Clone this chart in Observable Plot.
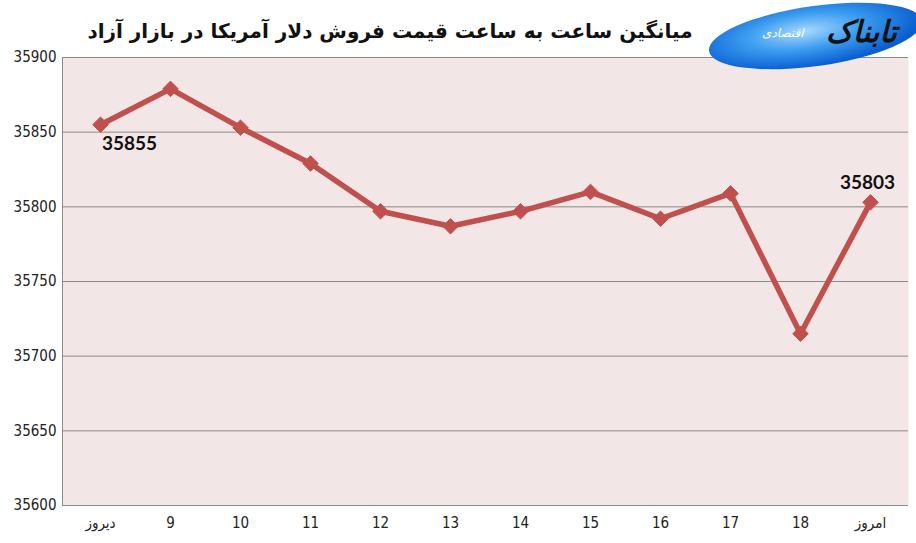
<!DOCTYPE html>
<html><head><meta charset="utf-8">
<script src="https://cdn.jsdelivr.net/npm/d3@7"></script>
<script src="https://cdn.jsdelivr.net/npm/@observablehq/plot@0.6"></script>
<style>
html,body{margin:0;padding:0;background:#fff;}
#wrap{position:relative;width:916px;height:543px;overflow:hidden;}
#title{position:absolute;left:0;width:780px;top:19px;text-align:center;font-family:"DejaVu Sans",sans-serif;font-weight:bold;font-size:20px;color:#111;direction:rtl;}
#logo{position:absolute;left:708px;top:6px;width:215px;height:60px;border-radius:50%;
 background:radial-gradient(ellipse at 45% 40%, #a8d8ff 0%, #3b9cf0 35%, #0a5fd0 70%, #0a4aa8 100%);
 transform:rotate(-8deg);z-index:2;}
#logo1{position:absolute;left:826px;top:14px;font-family:"DejaVu Sans",sans-serif;font-weight:bold;font-size:30px;color:#111;direction:rtl;z-index:3;font-style:italic;}
#logo2{position:absolute;left:762px;top:26px;font-family:"DejaVu Sans",sans-serif;font-size:12px;color:#fff;direction:rtl;z-index:3;font-style:italic;}
#chart{position:absolute;left:0;top:0;}
</style></head>
<body><div id="wrap"><div id="chart"></div><div id="title"></div><div id="logo"></div><div id="logo1">تابناک</div><div id="logo2">اقتصادی</div></div>
<script>
const titleText = "میانگین ساعت به ساعت قیمت فروش دلار آمریکا در بازار آزاد";
const categories = ["دیروز","9","10","11","12","13","14","15","16","17","18","امروز"];
const values = [35855,35879,35853,35829,35797,35787,35797,35810,35792,35809,35715,35803];
const yTicks = [35600,35650,35700,35750,35800,35850,35900];

document.getElementById("title").textContent = titleText;
const data = categories.map((c,i)=>({c, v: values[i]}));
const first = [data[0]];
const last = [data[data.length-1]];
const red = "#c0504d";

const chart = Plot.plot({
  width: 916, height: 543,
  marginLeft: 62, marginRight: 8, marginTop: 57, marginBottom: 38,
  style: {fontFamily: "'Liberation Sans Narrow','DejaVu Sans Condensed',sans-serif", fontSize: "15px", color: "#222", background: "transparent"},
  x: {type: "point", domain: categories, padding: 0.5, label: null},
  y: {domain: [35600, 35900], ticks: yTicks, label: null, tickFormat: d => String(d)},
  marks: [
    Plot.frame({fill: "#f3e6e6", stroke: null}),
    Plot.ruleY(yTicks, {stroke: "#8a8a8a", strokeWidth: 1}),
    Plot.frame({anchor: "left", stroke: "#8a8a8a"}),
    Plot.axisY({ticks: yTicks, tickSize: 0, tickPadding: 6, fontSize: 15, tickFormat: d => String(d)}),
    Plot.axisX({tickSize: 0, tickPadding: 12, fontSize: 15}),
    Plot.line(data, {x: "c", y: "v", stroke: red, strokeWidth: 5.5}),
    Plot.dot(data, {x: "c", y: "v", symbol: "diamond2", r: 7, fill: red, stroke: red, strokeWidth: 1}),
    Plot.text(first, {x: "c", y: "v", text: d => String(d.v), dx: 29, dy: 19, fontSize: 19, fontWeight: "bold", fill: "#111", fontFamily: "Lato, sans-serif"}),
    Plot.text(last, {x: "c", y: "v", text: d => String(d.v), dx: -3, dy: -19, fontSize: 19, fontWeight: "bold", fill: "#111", fontFamily: "Lato, sans-serif"})
  ]
});
document.getElementById("chart").appendChild(chart);
</script>
</body></html>
